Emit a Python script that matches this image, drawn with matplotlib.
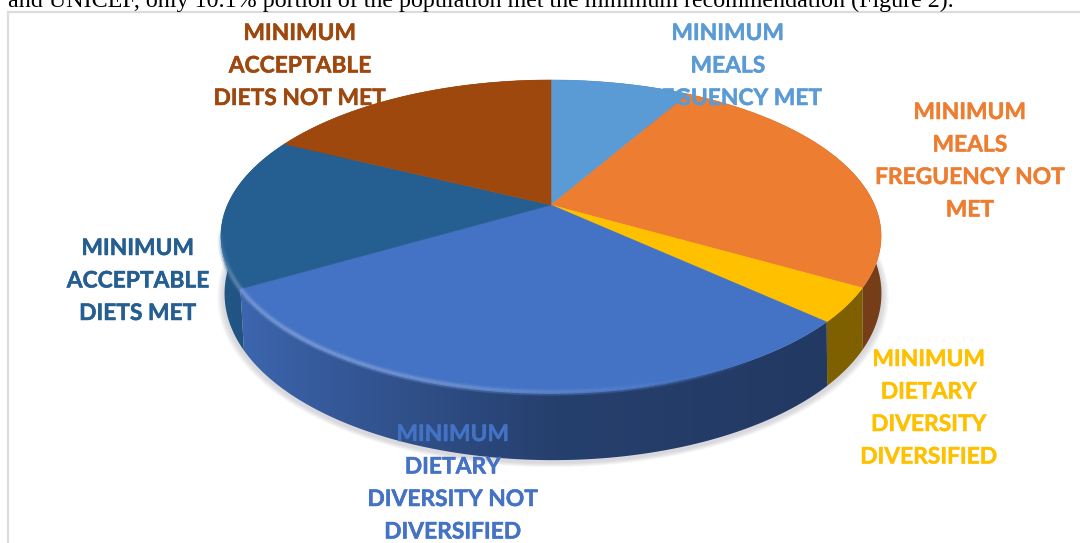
import numpy as np
import matplotlib
matplotlib.use("Agg")
import matplotlib.pyplot as plt
import matplotlib.patheffects as pe
from matplotlib.collections import LineCollection
from matplotlib.patches import Polygon

# share of each slice, clockwise from 12 o'clock
slice_names = ["MINIMUM\nMEALS\nFREGUENCY MET",
               "MINIMUM\nMEALS\nFREGUENCY NOT\nMET",
               "MINIMUM\nDIETARY\nDIVERSITY\nDIVERSIFIED",
               "MINIMUM\nDIETARY\nDIVERSITY NOT\nDIVERSIFIED",
               "MINIMUM\nACCEPTABLE\nDIETS MET",
               "MINIMUM\nACCEPTABLE\nDIETS NOT MET"]
slice_values = [8.3, 25.0, 3.5, 29.8, 15.7, 17.7]
slice_colors = ["#5B9BD5", "#ED7D31", "#FFC000", "#4472C4", "#255E91", "#9E480E"]

# label centre x and first line centre y, in pixels
label_x = [728, 970, 929, 453, 138, 300]
label_y = [32, 111, 358, 433, 247, 32]
line_step = 32.5

body_text = "and UNICEF, only 10.1% portion of the population met the minimum recommendation (Figure 2)."

# pie geometry in pixels
cx, cy = 551, 205
persp = 0.199
yscale = 149.9
xscale = 323.5


def rim(theta):
    # perspective projection of the unit circle, theta clockwise from the far side
    u, v = np.sin(theta), np.cos(theta)
    w = 1 + persp * v
    return cx + xscale * u / w, cy - yscale * v / w


def lower_rim(theta):
    x, y = rim(theta)
    return cx + 2 + (x - cx) * 0.995, y + 55 - 13 * np.cos(theta)


def to_rgb(c):
    return np.array(matplotlib.colors.to_rgb(c))


fig = plt.figure(figsize=(10.8, 5.43), dpi=100)
ax = fig.add_axes([0, 0, 1, 1])

fractions = np.array(slice_values) / sum(slice_values)
edges = np.concatenate([[0], np.cumsum(fractions)]) * 2 * np.pi

# soft shadow under the pie
ring = np.linspace(0, 2 * np.pi, 240)
sx, sy = lower_rim(ring)
for grow in [1.022, 1.018, 1.014, 1.01, 1.006]:
    ax.add_patch(Polygon(np.c_[cx + (sx - cx) * grow, cy + 31 + (sy - cy - 31) * grow + 2],
                         fc="#8a8a99", ec="none", alpha=0.07, zorder=1))

# side wall gets darker from left to right
shade = np.interp(np.arange(1080), [220, 330, 550, 830, 885], [0.92, 0.78, 0.56, 0.5, 0.5])
order = np.argsort(-np.cos((edges[:-1] + edges[1:]) / 2))
for i in order:
    th = np.linspace(edges[i], edges[i + 1], 160)
    x0, y0 = rim(th)
    x1, y1 = lower_rim(th)
    wall = Polygon(np.c_[np.r_[x0, x1[::-1]], np.r_[y0, y1[::-1]]], fc="none", ec="none")
    ax.add_patch(wall)
    rgb = shade[None, :, None] * to_rgb(slice_colors[i])[None, None, :]
    im = ax.imshow(rgb, extent=(0, 1080, 543, 0), aspect="auto", interpolation="bilinear", zorder=2)
    im.set_clip_path(wall)

# top surface
for i, color in enumerate(slice_colors):
    th = np.linspace(edges[i], edges[i + 1], 120)
    x, y = rim(th)
    ax.add_patch(Polygon(np.c_[np.r_[cx, x], np.r_[cy, y]], fc=color, ec=color, lw=0.4, zorder=3))

# bevel highlight along the front rim, fading towards the right
for i, color in enumerate(slice_colors):
    th = np.linspace(edges[i], edges[i + 1], 120)
    x, y = rim(th)
    pts = np.c_[x, y]
    segs = np.stack([pts[:-1], pts[1:]], axis=1)
    base = to_rgb(color)
    strength = np.interp(x[:-1], [230, 300, 450, 640, 760], [0.22, 0.25, 0.2, 0.06, 0.0])
    fade = np.clip((-0.15 - np.cos(th[:-1])) / 0.3, 0, 1) * np.clip(strength / 0.06, 0, 1)
    for width, alpha in [(5.0, 0.35), (2.5, 0.9)]:
        cols = np.c_[base[None, :] + (1 - base[None, :]) * strength[:, None], alpha * fade]
        ax.add_collection(LineCollection(segs, colors=cols, linewidths=width, capstyle="butt", zorder=4))

# page frame and the cut off line of body text
ax.plot([8, 8, 1080], [543, 11.5, 11.5], color="#dcdcdc", lw=1.6, zorder=0, solid_joinstyle="miter")
ax.text(8, 6.5, body_text, family="Liberation Serif", fontsize=17.3, color="black",
        ha="left", va="baseline", zorder=6)

for name, color, lx, ly in zip(slice_names, slice_colors, label_x, label_y):
    for j, line in enumerate(name.split("\n")):
        t = ax.text(lx, ly + j * line_step + 8, line, family="Lato", weight="bold", fontsize=16.4,
                    color=color, ha="center", va="baseline", zorder=7)
        t.set_path_effects([pe.withStroke(linewidth=0.35, foreground=color)])

ax.set_xlim(0, 1080)
ax.set_ylim(543, 0)
ax.axis("off")

fig.savefig("out.png", dpi=100)
